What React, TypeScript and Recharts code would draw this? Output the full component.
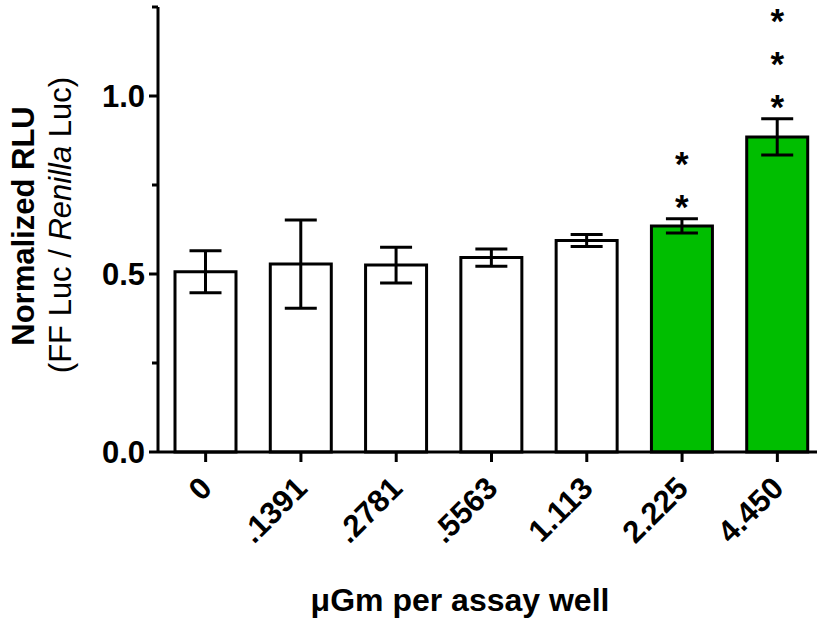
import { BarChart, Bar, XAxis, YAxis, ErrorBar, Cell, LabelList } from 'recharts';

const doses = ['0', '.1391', '.2781', '.5563', '1.113', '2.225', '4.450'];
const rlu = [0.506, 0.528, 0.525, 0.546, 0.594, 0.635, 0.885];
const sem = [0.059, 0.124, 0.05, 0.024, 0.017, 0.02, 0.051];
const stars = [0, 0, 0, 0, 0, 2, 3];
const significant = [false, false, false, false, false, true, true];
const yTicks = [0, 0.25, 0.5, 0.75, 1.0, 1.25];
const yLabeled = [0, 0.5, 1.0];

const data = doses.map((d, i) => ({ dose: d, rlu: rlu[i], sem: sem[i], stars: stars[i] }));

const FONT = '"Liberation Sans", Arial, Helvetica, sans-serif';

const YTick = (props: any) => {
  const { x, y, payload } = props;
  const v = payload.value;
  const major = yLabeled.includes(v);
  const len = major ? 9 : 6;
  return (
    <g>
      <line x1={x - len} y1={y} x2={x} y2={y} stroke="#000" strokeWidth={3} />
      {major && (
        <text x={x - 13} y={y + 11} textAnchor="end" fontFamily={FONT} fontWeight={700} fontSize={31} fill="#000">
          {v.toFixed(1)}
        </text>
      )}
    </g>
  );
};

const XTick = (props: any) => {
  const { x, y, payload } = props;
  const tx = x + 8;
  const ty = y + 38;
  return (
    <g>
      <line x1={x} y1={y} x2={x} y2={y + 10} stroke="#000" strokeWidth={3} />
      <text x={tx} y={ty} textAnchor="end" transform={`rotate(-45, ${tx}, ${ty})`} fontFamily={FONT} fontWeight={700} fontSize={31} fill="#000">
        {payload.value}
      </text>
    </g>
  );
};

const StarLabel = (props: any) => {
  const { x, y, width, height, index } = props;
  const n = stars[index];
  if (!n) return null;
  const pxPerUnit = height / rlu[index];
  const errTop = y - sem[index] * pxPerUnit;
  const cx = x + width / 2;
  const out = [];
  for (let k = 0; k < n; k++) {
    const cy = errTop - 19 - 43 * k;
    out.push(
      <text key={k} x={cx} y={cy + 19} textAnchor="middle" fontFamily={FONT} fontWeight={700} fontSize={35} fill="#000">
        *
      </text>
    );
  }
  return <g>{out}</g>;
};

const YTitle = () => (
  <g fontFamily={FONT} fill="#000">
    <text x={34} y={226} textAnchor="middle" transform="rotate(-90, 34, 226)" fontWeight={700} fontSize={31}>
      Normalized RLU
    </text>
    <text x={71} y={225} textAnchor="middle" transform="rotate(-90, 71, 225)" fontSize={31}>
      (FF Luc / <tspan fontStyle="italic">Renilla</tspan> Luc)
    </text>
  </g>
);

const XTitle = () => (
  <text x={460} y={611} textAnchor="middle" fontFamily={FONT} fontWeight={700} fontSize={32} fill="#000">
    μGm per assay well
  </text>
);

export default function App() {
  return (
    <div style={{ position: 'absolute', left: 0, top: 0, width: 817, height: 621, overflow: 'hidden', background: '#fff' }}>
      <BarChart width={840} height={621} data={data} margin={{ top: 7, right: 15, bottom: 0, left: 0 }}>
        <XAxis
          dataKey="dose"
          height={169}
          interval={0}
          tickSize={0}
          tickMargin={0}
          tickLine={false}
          axisLine={{ stroke: '#000', strokeWidth: 3 }}
          tick={<XTick />}
          label={<XTitle />}
        />
        <YAxis
          width={158}
          domain={[0, 1.25]}
          ticks={yTicks}
          interval={0}
          tickSize={0}
          tickMargin={0}
          tickLine={false}
          axisLine={{ stroke: '#000', strokeWidth: 3 }}
          tick={<YTick />}
          label={<YTitle />}
        />
        <Bar dataKey="rlu" barSize={61} stroke="#000" strokeWidth={3} isAnimationActive={false}>
          {data.map((d, i) => (
            <Cell key={d.dose} fill={significant[i] ? '#00BE00' : '#FFFFFF'} />
          ))}
          <ErrorBar dataKey="sem" width={16} stroke="#000" strokeWidth={3} isAnimationActive={false} />
          <LabelList dataKey="stars" content={<StarLabel />} />
        </Bar>
      </BarChart>
    </div>
  );
}
